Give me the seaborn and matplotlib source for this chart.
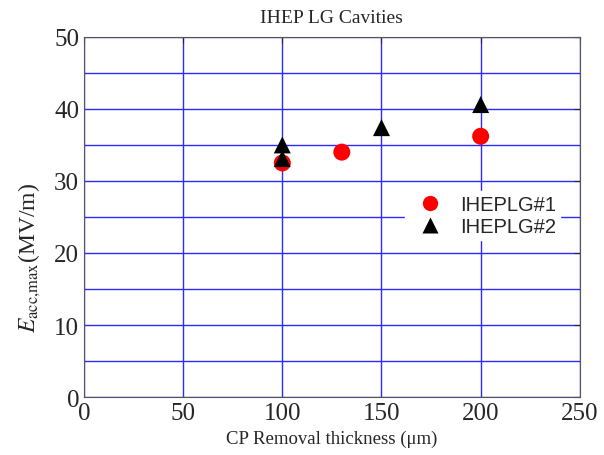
import pandas as pd
import matplotlib.pyplot as plt
import seaborn as sns

# CP removal thickness (um) and max accelerating gradient (MV/m)
lg1_x = [100, 130, 200]
lg1_y = [32.5, 34.0, 36.2]
lg2_x = [100, 100, 150, 200]
lg2_y = [35.0, 33.1, 37.4, 40.6]
names = ["IHEPLG#1", "IHEPLG#2"]

df = pd.concat([
    pd.DataFrame({"x": lg1_x, "y": lg1_y, "cavity": names[0]}),
    pd.DataFrame({"x": lg2_x, "y": lg2_y, "cavity": names[1]}),
])

sns.set_style("white")
plt.rcParams["font.family"] = ["Liberation Serif", "DejaVu Serif"]
plt.rcParams["mathtext.fontset"] = "stix"

fig, ax = plt.subplots(figsize=(6.04, 4.56), dpi=100)
fig.subplots_adjust(left=0.139, right=0.96, top=0.917, bottom=0.127)

sns.scatterplot(
    data=df, x="x", y="y", hue="cavity", style="cavity",
    palette={names[0]: "red", names[1]: "black"},
    markers={names[0]: "o", names[1]: "^"},
    s=150, edgecolor="none", ax=ax, zorder=3,
)

ax.set_xlim(0, 250)
ax.set_ylim(0, 50)
ax.set_xticks(range(0, 251, 50))
ax.set_yticks(range(0, 51, 10))
ax.set_yticks(range(5, 50, 10), minor=True)
ax.grid(True, which="both", color="#2a2aff", linewidth=1.0)
ax.tick_params(labelsize=18, direction="in", length=4, top=True, right=True)
ax.tick_params(which="minor", length=0)
for s in ax.spines.values():
    s.set_color("#555555")

ax.set_title("IHEP LG Cavities", fontsize=14, pad=11)
ax.set_xlabel("CP Removal thickness (\u03bcm)", fontsize=13.5)
ax.set_ylabel(r"$E_{\mathrm{acc{,}max}}$(MV/m)", fontsize=17)
ax.yaxis.set_label_coords(-0.083, 0.39)

leg = ax.legend(loc="center left", bbox_to_anchor=(0.628, 0.503), frameon=True,
                framealpha=1, edgecolor="white", fancybox=False,
                prop={"family": "Liberation Sans", "size": 14.5},
                handletextpad=0.5, borderpad=0.2, labelspacing=0.15)
for h in leg.legend_handles:
    h.set_markersize(11)

plt.savefig("out.png", dpi=100)
